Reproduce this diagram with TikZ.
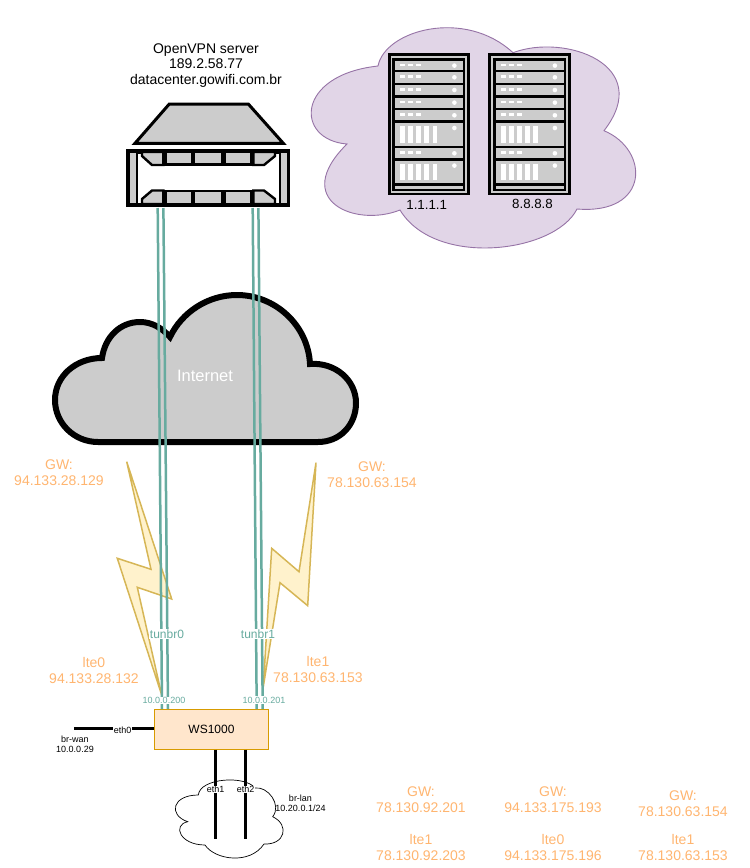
\documentclass[tikz,border=0pt]{standalone}
\usepackage{fontspec}
\setmainfont{Liberation Sans}
\usetikzlibrary{calc}
\definecolor{tealline}{HTML}{67AB9F}
\definecolor{orangetxt}{HTML}{FFB570}
\definecolor{iconGray}{HTML}{CCCCCC}
\definecolor{boltline}{HTML}{D6B656}
\definecolor{boltfill}{HTML}{FFF2CC}
\definecolor{purpleline}{HTML}{9673A6}
\definecolor{purplefill}{HTML}{E1D5E7}
\definecolor{wsline}{HTML}{D79B00}
\definecolor{wsfill}{HTML}{FFE6CC}
\tikzset{
  ltxt/.style={inner sep=0pt,align=center,text=orangetxt,font=\fontsize{14}{16}\selectfont},
  btxt/.style={inner sep=0pt,align=center,text=black,font=\fontsize{13.3}{15}\selectfont},
  vtxt/.style={inner sep=0pt,align=center,text=black,font=\fontsize{14}{15.7}\selectfont},
  stxt/.style={inner sep=0.5pt,align=center,text=black,font=\fontsize{9}{10}\selectfont},
  ipl/.style={inner sep=0.5pt,fill=white,text=tealline,font=\fontsize{9}{10}\selectfont},
  tunl/.style={inner sep=0.8pt,fill=white,text=tealline,font=\fontsize{12}{13}\selectfont},
  tunnel/.style={draw=tealline,line width=2.5pt},
  thick3/.style={draw=black,line width=3pt},
  boltshape/.style={draw=boltline,fill=boltfill,line width=1.5pt,line join=miter},
  pics/rackicon/.style={code={
    \fill[black] (0,0) rectangle (82.3,141.7);
    \fill[iconGray] (3,2.7) rectangle (79.3,139.3);
    \fill[black] (4.7,4.3) rectangle (77.7,137.3);
    \foreach \a/\b in {7.3/16.7,19/29.3,31.7/41.7,44.3/54.3,57/67,95/105}{
      \fill[iconGray] (7.3,\a) rectangle (75.7,\b);
      \foreach \p/\q in {12.3/17.3,20.7/25.7,28.3/33.3}
        \fill[white] (\p,\a+3) rectangle (\q,\a+5.5);
      \fill[white] (66.7,\a+5) circle (2.3);
    }
    \foreach \a/\b in {69.7/92.7,107.3/130}{
      \fill[iconGray] (7.3,\a) rectangle (75.7,\b);
      \foreach \p/\q in {12.3/17.3,20.7/25.7,28.3/33.3,36.7/41.7,45/49.7}
        \fill[white] (\p,\a+3) rectangle (\q,\b-3);
      \fill[white] (66.7,\a+5) circle (2.3);
    }
    \fill[iconGray] (7.3,132.7) rectangle (75.7,136);
  }}
}
\begin{document}
\begin{tikzpicture}[x=1pt,y=-1pt]
\useasboundingbox (0,0) rectangle (750,868);
% purple cloud
\draw[draw=purpleline,fill=purplefill,line width=0.9pt]
 (378,66) .. controls (385,30) and (465,8) .. (513,52.7)
 .. controls (565,33) and (655,65) .. (604,130.7)
 .. controls (650,150) and (650,215) .. (577,209)
 .. controls (555,253) and (435,268) .. (400,210)
 .. controls (355,228) and (290,200) .. (347,144)
 .. controls (295,140) and (295,75) .. (378,66) -- cycle;
% server racks
\pic at (387.7,53.3) {rackicon};
\pic at (488.2,53.3) {rackicon};
\node[btxt] (dnsa) at (426.7,205) {1.1.1.1};
\node[btxt] (dnsb) at (532.5,204.3) {8.8.8.8};
% OpenVPN server
\node[vtxt] (vpnlabel) at (206,65.5) {OpenVPN server\\189.2.58.77\\datacenter.gowifi.com.br};
\draw[draw=black,fill=iconGray,line width=3pt,line join=miter] (135,143.3) -- (169.3,104) -- (248.3,104) -- (283.3,143.3) -- cycle;
\node[draw=black,fill=white,line width=3pt,minimum width=158pt,minimum height=52pt,inner sep=0pt] (srv) at (208.3,178) {};
\begin{scope}[line width=2.4pt,draw=black,fill=iconGray,line join=miter]
  \filldraw (129,152) rectangle (136.7,204);
  \filldraw (280,152) rectangle (288,204);
  % top row
  \filldraw (142,152) -- (142,156) -- (152,165) -- (163.3,165) -- (163.3,152) -- cycle;
  \filldraw (165.3,152) rectangle (191.7,164.5);
  \filldraw (193.5,152) rectangle (222.5,164.5);
  \filldraw (224.5,152) rectangle (251.5,164.5);
  \filldraw (253.3,152) -- (253.3,165) -- (264,165) -- (275,156) -- (275,152) -- cycle;
  % bottom row
  \filldraw (142,204) -- (142,199) -- (152,190.5) -- (163.3,190.5) -- (163.3,204) -- cycle;
  \filldraw (165.3,204) rectangle (191.7,191);
  \filldraw (193.5,204) rectangle (222.5,191);
  \filldraw (224.5,204) rectangle (251.5,191);
  \filldraw (253.3,204) -- (253.3,190.5) -- (264,190.5) -- (275,199) -- (275,204) -- cycle;
\end{scope}
\draw[draw=black,line width=3pt] (srv.south west) rectangle (srv.north east);
% Internet cloud
\draw[draw=black,fill=iconGray,line width=6pt,line join=miter]
 (98,442) -- (318,442)
 .. controls (340,442) and (356,425) .. (356,403)
 .. controls (356,380) and (335,362) .. (310,364)
 .. controls (308,325) and (275,295) .. (237,295)
 .. controls (208,295) and (182,312) .. (170,337)
 .. controls (162,328) and (152,322) .. (140,322)
 .. controls (120,322) and (105,337) .. (102,358)
 .. controls (76,358) and (55,376) .. (55,400)
 .. controls (55,423) and (74,442) .. (98,442) -- cycle;
\node[inner sep=0pt,text=white,font=\fontsize{16.5}{18}\selectfont] (inet) at (205,376) {Internet};
% bolts
\draw[boltshape] (126.7,461.7) -- (171.7,599) -- (137.3,587.3) -- (161.7,695) -- (117.3,558.3) -- (151,569.3) -- cycle;
\draw[boltshape] (316,462.7) -- (307.7,605.7) -- (280,582.7) -- (263.3,686.7) -- (271.7,548.3) -- (299,571.7) -- cycle;
% WS1000
\node[draw=wsline,fill=wsfill,line width=1pt,minimum width=113.6pt,minimum height=40pt,inner sep=0pt,font=\fontsize{12}{14}\selectfont] (ws) at (211.5,729.3) {WS1000};
% tunnels
\coordinate (s0a) at (157.7,208); \coordinate (s0b) at (163.4,208);
\coordinate (s1a) at (252.7,208); \coordinate (s1b) at (258.4,208);
\coordinate (w0a) at (162,709); \coordinate (w0b) at (168,709);
\coordinate (w1a) at (256.7,709); \coordinate (w1b) at (262.7,709);
\draw[tunnel] (s0a) -- (w0a);
\draw[tunnel] (s0b) -- (w0b);
\draw[tunnel] (s1a) -- (w1a);
\draw[tunnel] (s1b) -- (w1b);
\node[tunl] (tun0) at (167,634) {tunbr0};
\node[tunl] (tun1) at (258,634) {tunbr1};
\node[ipl] (ip0) at (164,700.7) {10.0.0.200};
\node[ipl] (ip1) at (264,700) {10.0.0.201};
% orange labels
\node[ltxt] (gw0) at (59,473) {GW:\\94.133.28.129};
\node[ltxt] (gw1) at (372,474.5) {GW:\\78.130.63.154};
\node[ltxt] (lte0) at (94,670) {lte0\\94.133.28.132};
\node[ltxt] (lte1) at (318,669.5) {lte1\\78.130.63.153};
\node[ltxt] (b1) at (421,800) {GW:\\78.130.92.201};
\node[ltxt] (b2) at (553,800) {GW:\\94.133.175.193};
\node[ltxt] (b3) at (683,804) {GW:\\78.130.63.154};
\node[ltxt] (c1) at (421,847) {lte1\\78.130.92.203};
\node[ltxt] (c2) at (553,847) {lte0\\94.133.175.196};
\node[ltxt] (c3) at (683,847) {lte1\\78.130.63.153};
% eth0
\coordinate (wanend) at (74.3,728.7);
\draw[thick3] (wanend) -- (ws.west |- wanend);
\node[stxt,fill=white] (eth0) at (122.7,730.5) {eth0};
\node[stxt] (brwan) at (75,744) {br-wan\\10.0.0.29};
% LAN cloud
\draw[draw=black,fill=white,line width=0.7pt]
 (198.3,795) .. controls (200,778) and (245,775) .. (255,788)
 .. controls (268,786) and (282,805) .. (272.7,816.7)
 .. controls (290,825) and (285,845) .. (264,844)
 .. controls (250,865) and (215,860) .. (205,845)
 .. controls (180,845) and (172,825) .. (187.7,821.7)
 .. controls (168,815) and (172,795) .. (198.3,795) -- cycle;
\coordinate (l1) at (215.7,839); \coordinate (l2) at (245.7,839);
\draw[thick3] (ws.south -| l1) -- (l1);
\draw[thick3] (ws.south -| l2) -- (l2);
\node[stxt,fill=white] (eth1) at (215.7,789.5) {eth1};
\node[stxt,fill=white] (eth2) at (245.7,789.5) {eth2};
\node[stxt] (brlan) at (300.5,803) {br-lan\\10.20.0.1/24};
\end{tikzpicture}
\end{document}
